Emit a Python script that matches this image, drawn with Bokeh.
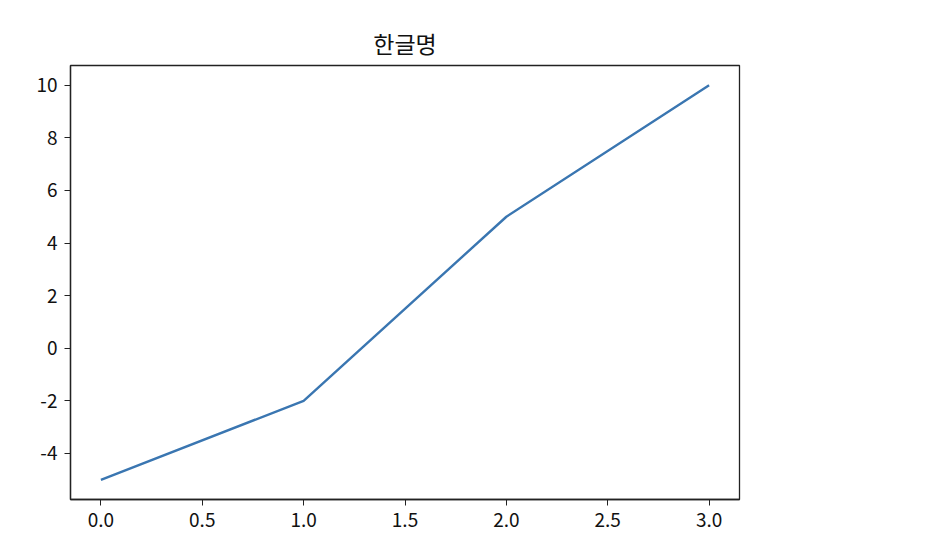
from bokeh.plotting import figure
from bokeh.embed import file_html
from bokeh.resources import INLINE
from bokeh.models import FixedTicker, Range1d, NumeralTickFormatter

xs = [0, 1, 2, 3]
ys = [-5, -2, 5, 10]
x_ticks = [0, 0.5, 1.0, 1.5, 2.0, 2.5, 3.0]
y_ticks = [-4, -2, 0, 2, 4, 6, 8, 10]
title = "한글명"
FONT = "Noto Sans CJK KR"

p = figure(width=926, height=550, output_backend="svg", toolbar_location=None,
           title=title, x_range=Range1d(-0.15, 3.15), y_range=Range1d(-5.75, 10.75))
p.min_border_left = 70
p.min_border_right = 187
p.min_border_top = 65
p.min_border_bottom = 51

p.line(xs, ys, line_color="#3a76b1", line_width=2.4)

p.title.align = "center"
p.title.text_font = FONT
p.title.text_font_size = "23px"
p.title.text_font_style = "normal"
p.title.text_color = "#111111"
p.title.standoff = 12

p.xgrid.visible = False
p.ygrid.visible = False
p.outline_line_color = "#222222"
p.outline_line_width = 1.3
p.outline_line_alpha = 1

for ax in (p.xaxis[0], p.yaxis[0]):
    ax.axis_line_color = "#222222"
    ax.axis_line_width = 1.3
    ax.major_tick_line_color = "#222222"
    ax.major_tick_in = 0
    ax.major_tick_out = 6
    ax.minor_tick_line_color = None
    ax.major_label_text_font = FONT
    ax.major_label_text_font_size = "19px"
    ax.major_label_text_color = "#111111"
    ax.major_label_standoff = 7

p.xaxis.ticker = FixedTicker(ticks=x_ticks)
p.yaxis.ticker = FixedTicker(ticks=y_ticks)
p.xaxis.formatter = NumeralTickFormatter(format="0.0")
p.yaxis.formatter = NumeralTickFormatter(format="0")

open("out.html", "w").write(file_html(p, INLINE))
